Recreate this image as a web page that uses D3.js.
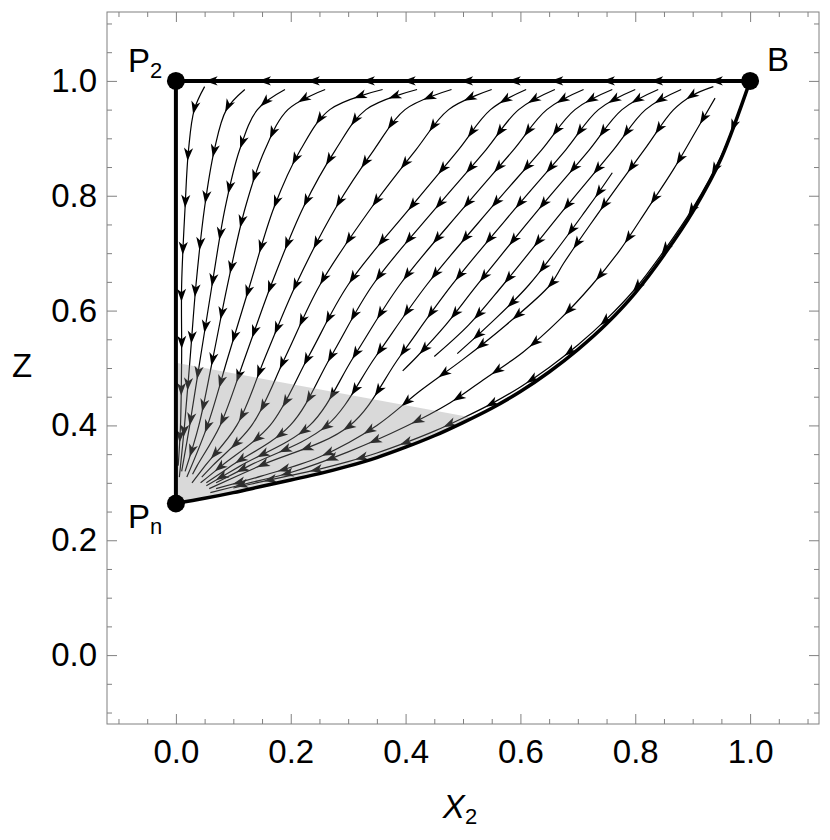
<!DOCTYPE html>
<html><head><meta charset="utf-8">
<script src="https://cdn.jsdelivr.net/npm/d3@7"></script>
<style>
body{margin:0;background:#fff}
svg{display:block}
text{font-family:"Liberation Sans",Arial,Helvetica,sans-serif;fill:#000}
</style>
</head><body>
<svg id="c" width="830" height="840"></svg>
<script>
// ---------- data ----------
const xDomain = [-0.12, 1.12];
const zDomain = [-0.12, 1.12];
const majorTicks = [0, 0.2, 0.4, 0.6, 0.8, 1.0];
const tickLabels = ["0.0", "0.2", "0.4", "0.6", "0.8", "1.0"];
const minorTicks = [-0.1, -0.05, 0.05, 0.1, 0.15, 0.25, 0.3, 0.35, 0.45, 0.5, 0.55, 0.65, 0.7, 0.75, 0.85, 0.9, 0.95, 1.05, 1.1];

const equilibria = [
  {name: "P", sub: "2", x: 0, z: 1},
  {name: "B", sub: "", x: 1, z: 1},
  {name: "P", sub: "n", x: 0, z: 0.264}
];

// lower invariant curve from Pn to B
const lowerCurve = [[0,0.264],[0.05,0.273],[0.1,0.283],[0.15,0.294],[0.2,0.305],[0.25,0.316],[0.3,0.329],[0.35,0.344],[0.4,0.362],[0.45,0.382],[0.5,0.405],[0.55,0.43],[0.6,0.459],[0.65,0.493],[0.7,0.532],[0.75,0.577],[0.8,0.631],[0.85,0.697],[0.9,0.772],[0.95,0.866],[1,1]];
const topEdge = [[1,1],[0,1]];
const leftEdge = [[0,1],[0,0.264]];

// shaded wedge (upper boundary), closed along the lower curve
const shadeTop = [[0,0.264],[0,0.509],[0.52,0.413]];

// arrows sitting on the top edge (flow towards P2)
const topArrowX = [0.05, 0.143, 0.228, 0.324, 0.395, 0.495, 0.578, 0.652, 0.742, 0.826, 0.93];

// streamlines, listed in flow direction
const stream1  = [[0.05,0.99],[0.032,0.95],[0.022,0.88],[0.016,0.78],[0.010,0.645],[0.010,0.52],[0.008,0.40],[0.004,0.33]];
const stream2  = [[0.12,0.985],[0.088,0.95],[0.067,0.88],[0.05,0.78],[0.035,0.645],[0.025,0.52],[0.015,0.40],[0.006,0.31]];
const stream3  = [[0.19,0.985],[0.142,0.95],[0.111,0.88],[0.086,0.78],[0.063,0.645],[0.043,0.52],[0.024,0.40],[0.01,0.32]];
const stream4  = [[0.26,0.985],[0.195,0.95],[0.155,0.88],[0.121,0.78],[0.09,0.645],[0.065,0.52],[0.04,0.40],[0.016,0.32]];
const stream5  = [[0.36,0.985],[0.268,0.95],[0.217,0.88],[0.171,0.78],[0.129,0.645],[0.091,0.52],[0.055,0.40],[0.019,0.31]];
const stream6  = [[0.42,0.985],[0.331,0.95],[0.278,0.88],[0.222,0.78],[0.166,0.645],[0.121,0.52],[0.077,0.40],[0.037,0.33],[0.029,0.315]];
const stream7  = [[0.48,0.985],[0.399,0.95],[0.345,0.88],[0.279,0.78],[0.209,0.645],[0.156,0.52],[0.106,0.40],[0.051,0.33],[0.028,0.30]];
const stream8  = [[0.55,0.985],[0.475,0.95],[0.418,0.88],[0.341,0.78],[0.251,0.645],[0.191,0.52],[0.132,0.40],[0.064,0.33],[0.045,0.31]];
const stream9  = [[0.61,0.985],[0.548,0.95],[0.492,0.88],[0.409,0.78],[0.300,0.645],[0.231,0.52],[0.164,0.40],[0.080,0.33],[0.043,0.30]];
const stream10 = [[0.66,0.985],[0.597,0.95],[0.54,0.88],[0.454,0.78],[0.343,0.645],[0.270,0.52],[0.199,0.40],[0.097,0.33],[0.053,0.30]];
const stream11 = [[0.71,0.985],[0.646,0.95],[0.588,0.88],[0.502,0.78],[0.39,0.645],[0.31,0.52],[0.233,0.40],[0.113,0.33],[0.053,0.295]];
const stream12 = [[0.76,0.985],[0.695,0.95],[0.637,0.88],[0.55,0.78],[0.437,0.645],[0.348,0.52],[0.263,0.40],[0.128,0.33],[0.07,0.30]];
const stream13 = [[0.80,0.985],[0.736,0.95],[0.679,0.88],[0.593,0.78],[0.481,0.645],[0.39,0.52],[0.303,0.40],[0.147,0.33],[0.058,0.29]];
const stream14 = [[0.84,0.985],[0.777,0.95],[0.72,0.88],[0.635,0.78],[0.525,0.645],[0.47,0.575],[0.42,0.52],[0.395,0.495]];
const stream15 = [[0.88,0.985],[0.818,0.95],[0.762,0.88],[0.679,0.78],[0.57,0.645],[0.51,0.575],[0.45,0.52]];
const stream16 = [[0.76,0.84],[0.718,0.78],[0.615,0.645],[0.545,0.575],[0.49,0.525]];
const stream17 = [[0.936,0.99],[0.90,0.975],[0.866,0.949],[0.82,0.886],[0.771,0.819],[0.721,0.749],[0.675,0.682],[0.652,0.645],[0.575,0.575],[0.50,0.515],[0.425,0.46],[0.35,0.40],[0.25,0.345],[0.15,0.312],[0.07,0.29]];
const stream18 = [[0.939,0.97],[0.907,0.915],[0.866,0.845],[0.82,0.775],[0.773,0.705],[0.725,0.645],[0.669,0.585],[0.605,0.528],[0.535,0.479],[0.477,0.439],[0.40,0.398],[0.30,0.354],[0.2,0.318],[0.12,0.298],[0.06,0.283]];
const streamHug = [[0.985,0.96],[0.95,0.87],[0.9,0.778],[0.85,0.704],[0.8,0.638],[0.75,0.585],[0.7,0.54],[0.65,0.501],[0.6,0.467],[0.55,0.438],[0.5,0.413],[0.45,0.39],[0.4,0.37],[0.35,0.352],[0.3,0.337],[0.25,0.324],[0.2,0.313],[0.15,0.302],[0.1,0.291]];

const streamlines = [stream1,stream2,stream3,stream4,stream5,stream6,stream7,stream8,stream9,stream10,stream11,stream12,stream13,stream14,stream15,stream16,stream17,stream18,streamHug];

// ---------- drawing ----------
const W = 830, H = 840, m = {l:107, r:11, t:12, b:116};
const x = d3.scaleLinear().domain(xDomain).range([m.l, W - m.r]);
const y = d3.scaleLinear().domain(zDomain).range([H - m.b, m.t]);
const svg = d3.select("#c");

const arrowShape = "M0,0 L-13,-4.6 L-9.5,0 L-13,4.6 Z";
const curveGen = d3.line().x(d => x(d[0])).y(d => y(d[1])).curve(d3.curveCatmullRom.alpha(0.5));
const straightGen = d3.line().x(d => x(d[0])).y(d => y(d[1]));

// streamlines
const gS = svg.append("g");
streamlines.forEach(pts => {
  const p = gS.append("path").attr("d", curveGen(pts))
    .attr("fill", "none").attr("stroke", "#000").attr("stroke-width", 1.2);
  const node = p.node(), L = node.getTotalLength();
  for (let s = 30; s < L - 10; s += 47) {
    const a = node.getPointAtLength(s), b = node.getPointAtLength(Math.min(L, s + 1));
    const ang = Math.atan2(b.y - a.y, b.x - a.x) * 180 / Math.PI;
    gS.append("path").attr("d", arrowShape).attr("fill", "#000")
      .attr("transform", `translate(${a.x},${a.y}) rotate(${ang})`);
  }
});

// shaded wedge
const shadePoly = shadeTop.concat(lowerCurve.filter(d => d[0] < 0.52 && d[0] > 0).reverse());
svg.append("path").attr("d", straightGen(shadePoly) + "Z")
  .attr("fill", "#8c8c8c").attr("fill-opacity", 0.33).attr("stroke", "none");

// invariant boundaries
[topEdge, leftEdge].forEach(seg => svg.append("path").attr("d", straightGen(seg))
  .attr("fill", "none").attr("stroke", "#000").attr("stroke-width", 4));
svg.append("path").attr("d", d3.line().x(d => x(d[0])).y(d => y(d[1])).curve(d3.curveMonotoneX)(lowerCurve))
  .attr("fill", "none").attr("stroke", "#000").attr("stroke-width", 3.5);

// arrows on top edge
svg.selectAll(".ta").data(topArrowX).enter().append("path")
  .attr("d", arrowShape).attr("fill", "#000")
  .attr("transform", d => `translate(${x(d)},${y(1)}) rotate(180)`);

// frame and ticks
const frameColor = "#808080";
svg.append("rect").attr("x", m.l).attr("y", m.t).attr("width", W - m.l - m.r).attr("height", H - m.t - m.b)
  .attr("fill", "none").attr("stroke", frameColor).attr("stroke-width", 1);

function styleAxis(g) {
  g.select(".domain").remove();
  g.selectAll(".tick line").attr("stroke", frameColor);
  g.selectAll("text").style("font-size", "33px").attr("fill", "#000");
}
svg.append("g").attr("transform", `translate(0,${H - m.b})`)
  .call(d3.axisBottom(x).tickValues(majorTicks).tickSize(-10).tickPadding(16).tickFormat((d, i) => tickLabels[i])).call(styleAxis);
svg.append("g").attr("transform", `translate(0,${H - m.b})`)
  .call(d3.axisBottom(x).tickValues(minorTicks).tickSize(-5).tickFormat("")).call(styleAxis);
svg.append("g").attr("transform", `translate(0,${m.t})`)
  .call(d3.axisTop(x).tickValues(majorTicks).tickSize(-10).tickFormat("")).call(styleAxis);
svg.append("g").attr("transform", `translate(0,${m.t})`)
  .call(d3.axisTop(x).tickValues(minorTicks).tickSize(-5).tickFormat("")).call(styleAxis);
svg.append("g").attr("transform", `translate(${m.l},0)`)
  .call(d3.axisLeft(y).tickValues(majorTicks).tickSize(-10).tickPadding(10).tickFormat((d, i) => tickLabels[i])).call(styleAxis);
svg.append("g").attr("transform", `translate(${m.l},0)`)
  .call(d3.axisLeft(y).tickValues(minorTicks).tickSize(-5).tickFormat("")).call(styleAxis);
svg.append("g").attr("transform", `translate(${W - m.r},0)`)
  .call(d3.axisRight(y).tickValues(majorTicks).tickSize(-10).tickFormat("")).call(styleAxis);
svg.append("g").attr("transform", `translate(${W - m.r},0)`)
  .call(d3.axisRight(y).tickValues(minorTicks).tickSize(-5).tickFormat("")).call(styleAxis);

// equilibrium points
svg.selectAll(".eq").data(equilibria).enter().append("circle")
  .attr("cx", d => x(d.x)).attr("cy", d => y(d.z)).attr("r", 9).attr("fill", "#000");

// point labels
const labelOffsets = {"P2": [-48, -9], "B": [17, -10], "Pn": [-48, 24]};
equilibria.forEach(d => {
  const off = labelOffsets[d.name + d.sub];
  const t = svg.append("text").attr("x", x(d.x) + off[0]).attr("y", y(d.z) + off[1]).style("font-size", "33px");
  t.append("tspan").text(d.name);
  if (d.sub) t.append("tspan").attr("dy", 6).style("font-size", "22px").text(d.sub);
});

// axis titles
const xt = svg.append("text").attr("x", (m.l + W - m.r) / 2 - 3).attr("y", 818).attr("text-anchor", "middle").style("font-size", "33px");
xt.append("tspan").style("font-style", "italic").text("X");
xt.append("tspan").attr("dy", 6).style("font-size", "22px").text("2");
svg.append("text").attr("x", 22).attr("y", 377).attr("text-anchor", "middle").style("font-size", "33px").text("Z");
</script>
</body></html>
